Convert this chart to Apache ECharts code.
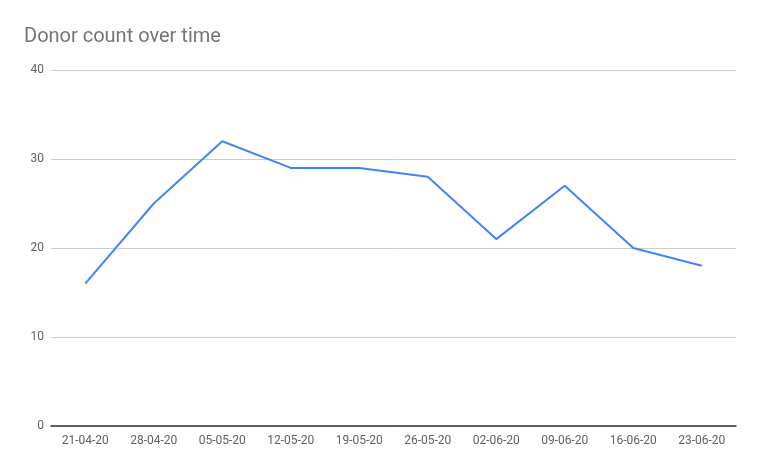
<!DOCTYPE html>
<html>
<head>
<meta charset="utf-8">
<script src="https://cdn.jsdelivr.net/npm/echarts@6/dist/echarts.min.js"></script>
<style>
  html, body { margin: 0; padding: 0; background: #fff; }
  #chart { width: 760px; height: 470px; }
</style>
</head>
<body>
<div id="chart"></div>
<script>
const weeks = ['21-04-20', '28-04-20', '05-05-20', '12-05-20', '19-05-20', '26-05-20', '02-06-20', '09-06-20', '16-06-20', '23-06-20'];
const donors = [16, 25, 32, 29, 29, 28, 21, 27, 20, 18];
const yTicks = [0, 10, 20, 30, 40];

const myChart = echarts.init(document.getElementById('chart'));

const option = {
  animation: false,
  textStyle: { fontFamily: 'Roboto' },
  title: {
    text: 'Donor count over time',
    left: 24,
    top: 27,
    padding: 0,
    textStyle: { fontFamily: 'Roboto', fontSize: 20, fontWeight: 'normal', color: '#757575' }
  },
  grid: { left: 51, right: 24, top: 70, bottom: 44 },
  xAxis: {
    type: 'category',
    data: weeks,
    boundaryGap: true,
    axisLine: { lineStyle: { color: '#333', width: 1.5 } },
    axisTick: { show: false },
    axisLabel: { color: '#616161', fontSize: 12, margin: 9, interval: 0 }
  },
  yAxis: {
    type: 'value',
    min: yTicks[0],
    max: yTicks[yTicks.length - 1],
    interval: 10,
    axisLine: { show: false },
    axisTick: { show: false },
    axisLabel: { color: '#616161', fontSize: 12, margin: 7 },
    splitLine: { lineStyle: { color: '#ccc', width: 1 } }
  },
  series: [
    {
      name: 'Donors',
      type: 'line',
      data: donors,
      symbol: 'none',
      lineStyle: { color: '#4285f4', width: 2 }
    }
  ]
};

myChart.setOption(option);
window.addEventListener('resize', () => myChart.resize());
</script>
</body>
</html>
